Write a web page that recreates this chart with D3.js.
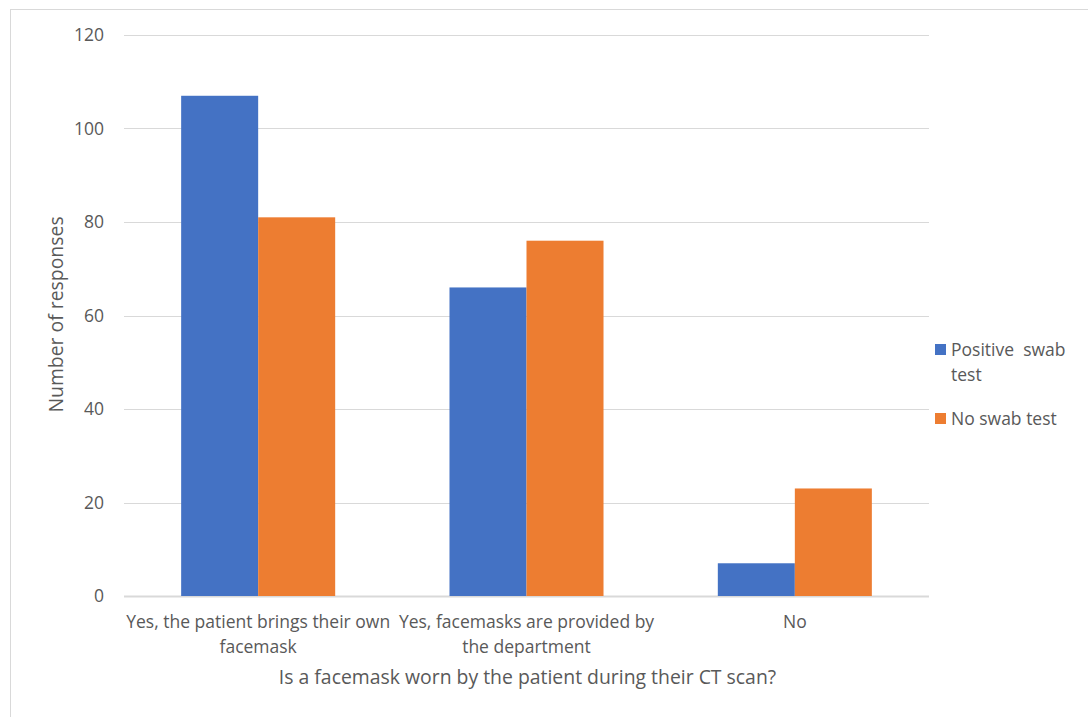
<!DOCTYPE html>
<html>
<head>
<meta charset="utf-8">
<script src="https://cdn.jsdelivr.net/npm/d3@7"></script>
<style>
html,body{margin:0;padding:0;background:#fff;}
svg{display:block;font-family:"Open Sans",sans-serif;}
</style>
</head>
<body>
<svg id="chart" width="1088" height="717"></svg>
<script>
const categories = [
  ["Yes, the patient brings their own", "facemask"],
  ["Yes, facemasks are provided by", "the department"],
  ["No"]
];
const seriesNames = [["Positive  swab", "test"], ["No swab test"]];
const positiveSwab = [107, 66, 7];
const noSwab = [81, 76, 23];
const yTicks = [0, 20, 40, 60, 80, 100, 120];
const colors = ["#4472C4", "#ED7D31"];
const xTitle = "Is a facemask worn by the patient during their CT scan?";
const yTitle = "Number of responses";

const svg = d3.select("#chart");
const W = 1088, H = 717;
const plot = {left: 124, right: 929, top: 35, bottom: 596};
const FS = 17.5;
const TS = 19.4;

svg.append("rect").attr("x", 10.5).attr("y", 9.5).attr("width", W + 10).attr("height", H + 10)
  .attr("fill", "none").attr("stroke", "#d9d9d9").attr("stroke-width", 1);

const y = d3.scaleLinear().domain([0, 120]).range([plot.bottom, plot.top]);
const x = d3.scaleBand().domain(d3.range(categories.length)).range([plot.left, plot.right]).paddingInner(0).paddingOuter(0);
const barW = x.bandwidth() * 0.287;
const xs = d3.scaleBand().domain([0, 1]).range([x.bandwidth()/2 - barW, x.bandwidth()/2 + barW]);

svg.append("g").selectAll("line").data(yTicks).join("line")
  .attr("x1", plot.left).attr("x2", plot.right)
  .attr("y1", d => Math.round(y(d)) + 0.5).attr("y2", d => Math.round(y(d)) + 0.5)
  .attr("stroke", "#d9d9d9").attr("stroke-width", d => d === 0 ? 2 : 1);

svg.append("g").selectAll("text").data(yTicks).join("text")
  .attr("x", 104).attr("y", d => y(d)).attr("dy", "0.35em")
  .attr("text-anchor", "end").attr("font-size", FS).attr("fill", "#595959")
  .text(d => d);

const series = [positiveSwab, noSwab];
series.forEach((vals, si) => {
  svg.append("g").selectAll("rect").data(vals).join("rect")
    .attr("x", (d, i) => x(i) + xs(si))
    .attr("width", xs.bandwidth())
    .attr("y", d => y(d))
    .attr("height", d => y(0) - y(d))
    .attr("fill", colors[si]);
});

const xl = svg.append("g").selectAll("text").data(categories).join("text")
  .attr("x", (d, i) => x(i) + x.bandwidth()/2)
  .attr("y", 628).attr("text-anchor", "middle").attr("font-size", FS).attr("fill", "#595959");
xl.each(function(lines) {
  d3.select(this).selectAll("tspan").data(lines).join("tspan")
    .attr("x", d3.select(this).attr("x")).attr("dy", (d, j) => j === 0 ? 0 : 25).text(d => d);
});

svg.append("text").attr("x", (plot.left + plot.right)/2 + 1).attr("y", 684)
  .attr("text-anchor", "middle").attr("font-size", TS).attr("fill", "#595959").text(xTitle);
svg.append("text").attr("transform", `translate(63,${(plot.top + plot.bottom)/2 - 1}) rotate(-90)`)
  .attr("text-anchor", "middle").attr("font-size", TS).attr("fill", "#595959").text(yTitle);

const lg = svg.append("g");
const legendY = [350, 419];
seriesNames.forEach((lines, i) => {
  lg.append("rect").attr("x", 935).attr("y", legendY[i] - 6).attr("width", 11).attr("height", 11).attr("fill", colors[i]);
  const t = lg.append("text").attr("x", 951).attr("y", legendY[i])
    .attr("font-size", FS).attr("fill", "#595959").style("white-space","pre");
  lines.forEach((l, j) => t.append("tspan").attr("x", 951).attr("dy", j === 0 ? "0.35em" : 25).text(l));
});
</script>
</body>
</html>
